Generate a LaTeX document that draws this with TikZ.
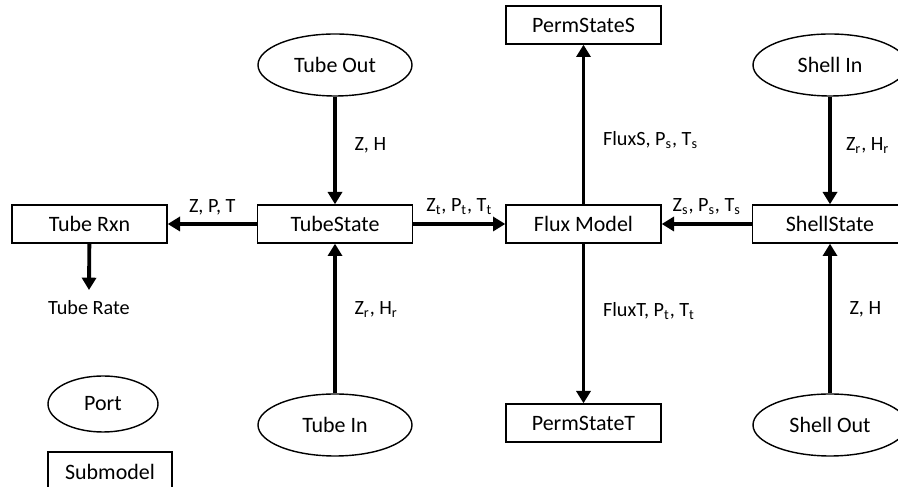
\documentclass[tikz,border=0pt]{standalone}
\usepackage{fontspec}
\setmainfont{Carlito}
\usepackage{tikz}
\usetikzlibrary{arrows.meta, positioning, shapes.geometric}

\tikzset{
  model/.style={draw, thick, minimum width=3.1cm, minimum height=0.76cm, inner sep=2pt},
  port/.style={draw, thick, ellipse, minimum width=3.08cm, minimum height=1.24cm, inner sep=1pt},
  flow/.style={line width=2.2pt, -{Triangle[length=7pt,width=8pt]}},
  lab/.style={font=\fontsize{11.5}{14}\selectfont, inner sep=2pt}
}

\begin{document}
\begin{tikzpicture}[font=\fontsize{12.5}{15}\selectfont]
  \useasboundingbox (0,0) rectangle (17.96,9.74);
  % Submodely
  \node[model] (rxn)   at (1.79,5.26)  {Tube Rxn};
  \node[model] (tube)  at (6.70,5.26)  {TubeState};
  \node[model] (flux)  at (11.67,5.26) {Flux Model};
  \node[model] (shell) at (16.60,5.26) {ShellState};
  \node[model] (perms) at (11.67,9.24) {PermStateS};
  \node[model] (permt) at (11.67,1.28) {PermStateT};
  % Porty
  \node[port] (tout)  at (6.70,8.44)  {Tube Out};
  \node[port] (tin)   at (6.70,1.24)  {Tube In};
  \node[port] (sin)   at (16.60,8.44) {Shell In};
  \node[port] (sout)  at (16.60,1.24) {Shell Out};
  \node[lab] (rate) at (1.78,3.58) {Tube Rate};
  % Legenda
  \node[port, minimum width=2.2cm, minimum height=1.12cm] (legport) at (2.06,1.66) {Port};
  \node[model, minimum width=2.48cm, minimum height=0.8cm] (legmodel) at (2.2,0.3) {Submodel};
  % Toky
  \draw[flow] (tube) -- (rxn) node[lab, midway, above=2pt] {Z, P, T};
  \draw[flow] (rxn) -- ([yshift=4pt]rate.north);
  \draw[flow] (tube) -- (flux) node[lab, midway, above=2pt] {Z\textsubscript{t}, P\textsubscript{t}, T\textsubscript{t}};
  \draw[flow] (shell) -- (flux) node[lab, midway, above=2pt] {Z\textsubscript{s}, P\textsubscript{s}, T\textsubscript{s}};
  \draw[flow] (flux) -- (perms) node[lab, pos=0.4, right=8pt] {FluxS, P\textsubscript{s}, T\textsubscript{s}};
  \draw[flow] (flux) -- (permt) node[lab, pos=0.42, right=8pt] {FluxT, P\textsubscript{t}, T\textsubscript{t}};
  \draw[flow] (tout) -- (tube) node[lab, pos=0.45, right=8pt] {Z, H};
  \draw[flow] (tin) -- (tube) node[lab, pos=0.56, right=8pt] {Z\textsubscript{r}, H\textsubscript{r}};
  \draw[flow] (sin) -- (shell) node[lab, pos=0.45, right=6pt] {Z\textsubscript{r}, H\textsubscript{r}};
  \draw[flow] (sout) -- (shell) node[lab, pos=0.56, right=8pt] {Z, H};
\end{tikzpicture}
\end{document}
